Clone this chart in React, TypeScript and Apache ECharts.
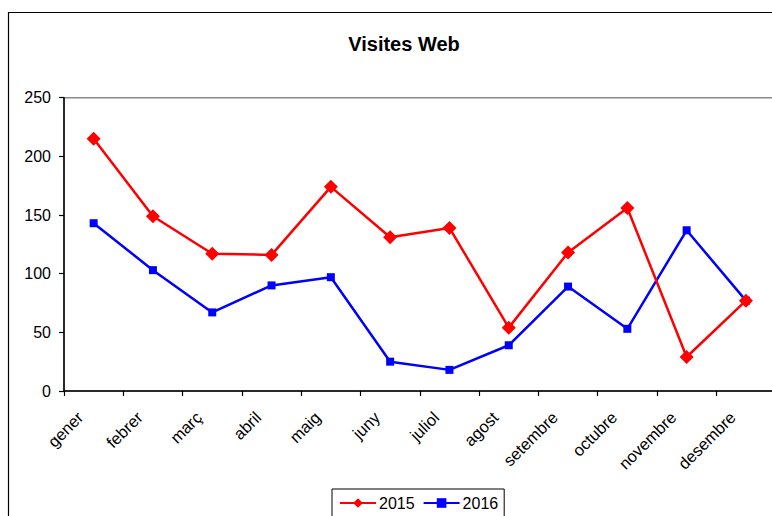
import React, { useEffect, useRef } from "react";
import * as echarts from "echarts";

const categories = ["gener", "febrer", "març", "abril", "maig", "juny", "juliol", "agost", "setembre", "octubre", "novembre", "desembre"];
const values2015 = [215, 149, 117, 116, 174, 131, 139, 54, 118, 156, 29, 77];
const values2016 = [143, 103, 67, 90, 97, 25, 18, 39, 89, 53, 137, 77];
const yTicks = { min: 0, max: 250, interval: 50 };

const FONT = "Arial, 'Liberation Sans', sans-serif";

export default function App() {
  const ref = useRef<HTMLDivElement>(null);
  useEffect(() => {
    if (!ref.current) return;
    const chart = echarts.init(ref.current, null, { renderer: "svg" });
    chart.setOption({
      animation: false,
      backgroundColor: "#ffffff",
      textStyle: { fontFamily: FONT },
      title: {
        text: "Visites Web",
        left: 399,
        textAlign: "center",
        top: 29,
        textStyle: { fontFamily: FONT, fontSize: 20, fontWeight: "bold", color: "#000" },
      },
      graphic: [
        {
          type: "rect",
          shape: { x: 8.5, y: 12.5, width: 800, height: 540 },
          style: { fill: "none", stroke: "#000", lineWidth: 1.2 },
          silent: true,
          z: 100,
        },
      ],
      legend: {
        left: 332,
        top: 489,
        padding: [6, 6, 8, 7],
        itemGap: 8,
        itemWidth: 36,
        itemHeight: 12,
        borderColor: "#000",
        borderWidth: 1,
        textStyle: { fontFamily: FONT, fontSize: 16, color: "#000", padding: [0, 0, 0, -2] },
        data: ["2015", "2016"],
      },
      grid: {
        left: 64,
        top: 97.7,
        bottom: 125,
        right: 4.4,
        show: true,
        borderColor: "#888",
        borderWidth: 1.5,
        containLabel: false,
      },
      xAxis: {
        type: "category",
        data: categories,
        boundaryGap: true,
        axisLine: { show: true, lineStyle: { color: "#000", width: 1.5 } },
        axisTick: { show: true, length: 5, lineStyle: { color: "#000", width: 1.2 }, alignWithLabel: false },
        axisLabel: {
          rotate: 45,
          interval: 0,
          margin: 10,
          fontFamily: FONT,
          fontSize: 16.5,
          color: "#000",
          padding: [0, 19, 0, 0],
        },
        splitLine: { show: false },
      },
      yAxis: {
        type: "value",
        min: yTicks.min,
        max: yTicks.max,
        interval: yTicks.interval,
        axisLine: { show: true, lineStyle: { color: "#000", width: 1.5 } },
        axisTick: { show: true, length: 5, lineStyle: { color: "#000", width: 1.2 } },
        axisLabel: { margin: 13, fontFamily: FONT, fontSize: 16, color: "#000" },
        splitLine: { show: false },
      },
      series: [
        {
          name: "2015",
          type: "line",
          data: values2015,
          symbol: "diamond",
          symbolSize: 14,
          lineStyle: { color: "#ff0000", width: 2.5 },
          itemStyle: { color: "#ff0000" },
          z: 3,
        },
        {
          name: "2016",
          type: "line",
          data: values2016,
          symbol: "rect",
          symbolSize: 8,
          lineStyle: { color: "#0000ff", width: 2.5 },
          itemStyle: { color: "#0000ff" },
          z: 2,
        },
      ],
    });
    return () => chart.dispose();
  }, []);
  return (
    <div style={{ position: "fixed", left: 0, top: 0, width: 772, height: 516, overflow: "hidden", background: "#fff" }}>
      <div ref={ref} style={{ width: 780, height: 516 }} />
    </div>
  );
}
